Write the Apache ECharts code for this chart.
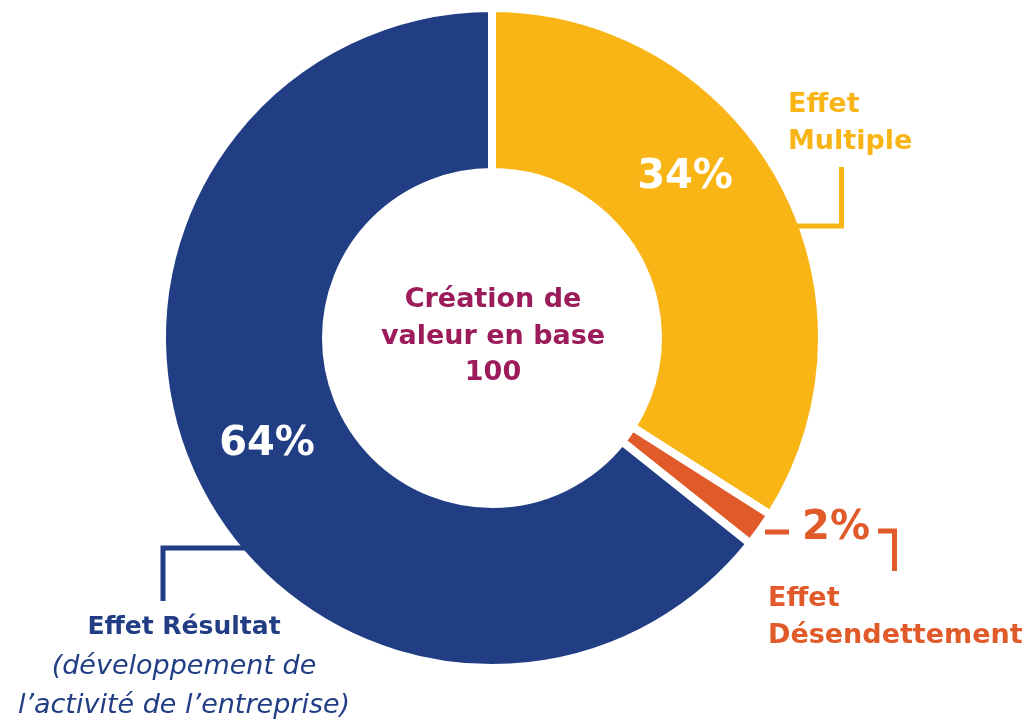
<!DOCTYPE html>
<html>
<head>
<meta charset="utf-8">
<script src="https://cdn.jsdelivr.net/npm/echarts@6/dist/echarts.min.js"></script>
<style>
  html, body { margin: 0; padding: 0; background: #ffffff; }
  #chart { width: 1028px; height: 726px; }
</style>
</head>
<body>
<div id="chart"></div>
<script>
// ---- data ----
const categories = ['Effet Multiple', 'Effet Désendettement', 'Effet Résultat'];
const values = [34, 1.7, 64.3];
const colors = ['#F9B515', '#E05A2A', '#213E85'];
const centerText = ['Création de', 'valeur en base', '100'];
const calloutText = [
  'Effet\nMultiple',
  'Effet\nDésendettement',
  '{b|Effet Résultat}\n{i|(développement de}\n{i|l’activité de l’entreprise)}'
];

// ---- layout ----
const CX = 492, CY = 338;
const FONT = '"DejaVu Sans", Verdana, sans-serif';

const chart = echarts.init(document.getElementById('chart'), null, { renderer: 'canvas' });

const mainData = categories.map((name, i) => ({
  name: name,
  value: values[i],
  itemStyle: { color: colors[i] },
  label: i === 1
    ? { position: 'outside', color: colors[1] }
    : { position: 'inside', color: '#ffffff' },
  labelLine: i === 1
    ? { show: true, lineStyle: { color: colors[1], width: 5 } }
    : { show: false }
}));

const calloutData = categories.map((name, i) => ({
  name: name,
  value: values[i],
  label: { color: colors[i] },
  labelLine: { show: true, lineStyle: { color: colors[i], width: 5 } }
}));

// positions of labels relative to the donut centre
const pctPos = [
  { x: CX + 193, y: CY - 160 },
  { x: CX + 344, y: CY + 191 },
  { x: CX - 225, y: CY + 107 }
];

const option = {
  backgroundColor: '#ffffff',
  animation: false,
  graphic: [{
    type: 'text',
    x: CX + 1,
    y: CY - 1.5,
    style: {
      text: centerText.join('\n'),
      align: 'center',
      verticalAlign: 'middle',
      fill: '#9B1B5B',
      font: 'bold 27px ' + FONT,
      lineHeight: 36.5
    }
  }],
  series: [
    {
      type: 'pie',
      z: 2,
      center: [CX, CY],
      radius: [166, 330],
      startAngle: 90,
      clockwise: true,
      avoidLabelOverlap: false,
      silent: true,
      itemStyle: { borderColor: '#ffffff', borderWidth: 8 },
      label: {
        show: true,
        fontFamily: FONT,
        fontWeight: 'bold',
        fontSize: 40,
        formatter: p => Math.round(p.percent) + '%'
      },
      labelLine: { smooth: false },
      labelLayout: function (params) {
        const i = params.dataIndex;
        const out = { x: pctPos[i].x, y: pctPos[i].y, align: 'center', verticalAlign: 'middle' };
        if (i === 1) {
          out.labelLinePoints = [[CX + 273, CY + 194], [CX + 285, CY + 194], [CX + 297, CY + 194]];
        }
        return out;
      },
      data: mainData
    },
    {
      type: 'pie',
      z: 3,
      center: [CX, CY],
      radius: [166, 330],
      startAngle: 90,
      clockwise: true,
      avoidLabelOverlap: false,
      silent: true,
      itemStyle: { color: 'rgba(0,0,0,0)', borderWidth: 0 },
      label: {
        show: true,
        position: 'outside',
        fontFamily: FONT,
        fontWeight: 'bold',
        fontSize: 27,
        lineHeight: 37,
        formatter: p => calloutText[p.dataIndex],
        rich: {
          b: { fontFamily: FONT, fontWeight: 'bold', fontSize: 25, lineHeight: 39, color: colors[2] },
          i: { fontFamily: FONT, fontStyle: 'italic', fontWeight: 'normal', fontSize: 27, lineHeight: 39, color: colors[2] }
        }
      },
      labelLine: { smooth: false },
      labelLayout: function (params) {
        const i = params.dataIndex;
        if (i === 0) {
          return {
            x: CX + 296, y: CY - 252, align: 'left', verticalAlign: 'top',
            labelLinePoints: [[CX + 349.5, CY - 171], [CX + 349.5, CY - 112], [CX + 304, CY - 112]]
          };
        }
        if (i === 1) {
          return {
            x: CX + 276, y: CY + 242, align: 'left', verticalAlign: 'top',
            labelLinePoints: [[CX + 386, CY + 193], [CX + 402.5, CY + 193], [CX + 402.5, CY + 233]]
          };
        }
        return {
          x: CX - 308, y: CY + 270, align: 'center', verticalAlign: 'top',
          labelLinePoints: [[CX - 329, CY + 263], [CX - 329, CY + 210], [CX - 247, CY + 210]]
        };
      },
      data: calloutData
    }
  ]
};

chart.setOption(option);
</script>
</body>
</html>
